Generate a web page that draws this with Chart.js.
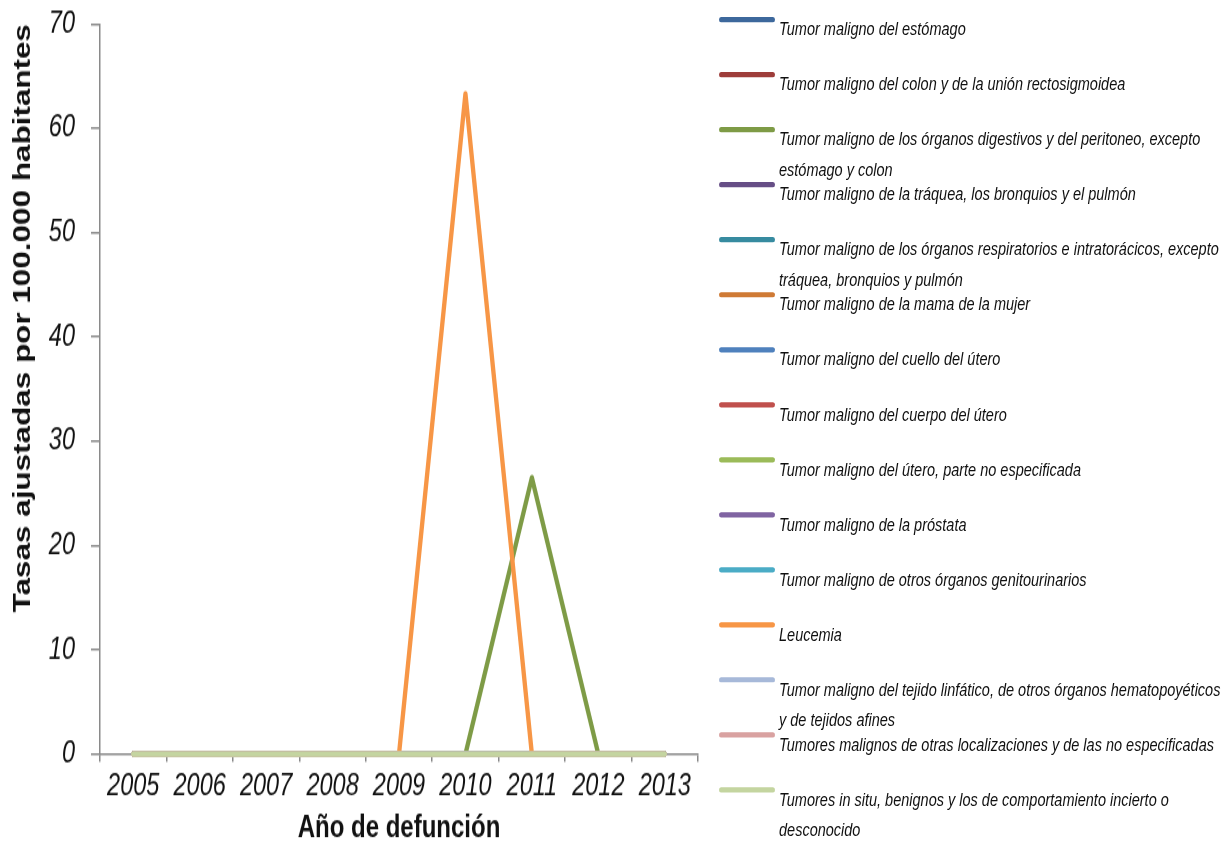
<!DOCTYPE html>
<html lang="es">
<head>
<meta charset="utf-8">
<title>Tasas ajustadas por 100.000 habitantes</title>
<script src="https://cdn.jsdelivr.net/npm/chart.js@4.4.1/dist/chart.umd.min.js"></script>
<style>
  html { overflow: hidden; }
  html, body { margin: 0; padding: 0; background: #fff; height: 841px; }
  /* the whole figure is drawn 642px tall and stretched to 841px */
  #stage { position: relative; width: 1226px; height: 642px; transform: scaleY(1.31); transform-origin: 0 0; }
  #chart { position: absolute; left: 0; top: 0; }
  .key-line { position: absolute; left: 719px; width: 56px; height: 4px; border-radius: 2px; }
  .key-text { position: absolute; left: 779px; font: italic 14.5px/23px "Liberation Sans", Arial, sans-serif; color: #111; white-space: pre; }
</style>
</head>
<body>
<div id="stage">
  <canvas id="chart" width="1226" height="642" style="width:1226px;height:642px"></canvas>
  <div id="legend"></div>
</div>
<script>
const years = ['2005', '2006', '2007', '2008', '2009', '2010', '2011', '2012', '2013'];

const causes = [
  'Tumor maligno del estómago',
  'Tumor maligno del colon y de la unión rectosigmoidea',
  'Tumor maligno de los órganos digestivos y del peritoneo, excepto\nestómago y colon',
  'Tumor maligno de la tráquea, los bronquios y el pulmón',
  'Tumor maligno de los órganos respiratorios e intratorácicos, excepto\ntráquea, bronquios y pulmón',
  'Tumor maligno de la mama de la mujer',
  'Tumor maligno del cuello del útero',
  'Tumor maligno del cuerpo del útero',
  'Tumor maligno del útero, parte no especificada',
  'Tumor maligno de la próstata',
  'Tumor maligno de otros órganos genitourinarios',
  'Leucemia',
  'Tumor maligno del tejido linfático, de otros órganos hematopoyéticos\ny de tejidos afines',
  'Tumores malignos de otras localizaciones y de las no especificadas',
  'Tumores in situ, benignos y los de comportamiento incierto o\ndesconocido'
];

const colors = [
  '#3d689c', '#9e3d3a', '#7e9b46', '#664e86', '#378ba0', '#cf7a35',
  '#4f81bd', '#c0504d', '#9bbb59', '#8064a2', '#4bacc6', '#f79646',
  '#a7b9d9', '#d9a2a1', '#c4d5a0'
];

// rates per year
const sinCasos   = [0, 0, 0, 0, 0, 0, 0, 0, 0];
const digestivos = [0, 0, 0, 0, 0, 0, 26.5, 0, 0];
const leucemia   = [0, 0, 0, 0, 0, 63.3, 0, 0, 0];

const tasas = [
  sinCasos, sinCasos, digestivos, sinCasos, sinCasos, sinCasos,
  sinCasos, sinCasos, sinCasos, sinCasos, sinCasos, leucemia,
  sinCasos, sinCasos, sinCasos
];

const yTicks = { min: 0, max: 70, step: 10 };

const axisGray = '#8a8a8a';
const family = '"Liberation Sans", Arial, sans-serif';

// legend on the right, one entry every 42px
const legend = document.getElementById('legend');
causes.forEach((name, i) => {
  const y = 15.3 + i * 42;
  const line = document.createElement('div');
  line.className = 'key-line';
  line.style.top = (y - 2) + 'px';
  line.style.background = colors[i];
  const txt = document.createElement('div');
  txt.className = 'key-text';
  txt.style.top = (y - 4.3) + 'px';
  txt.textContent = name;
  legend.appendChild(line);
  legend.appendChild(txt);
});

const datasets = causes.map((name, i) => ({
  label: name.replace('\n', ' '),
  data: tasas[i],
  borderColor: colors[i],
  backgroundColor: colors[i],
  borderWidth: 4.3,
  borderCapStyle: 'round',
  borderJoinStyle: 'round',
  pointRadius: 0,
  tension: 0,
  clip: false,
  order: causes.length - i   // later series on top
}));

new Chart(document.getElementById('chart'), {
  type: 'line',
  data: { labels: years, datasets },
  options: {
    responsive: false,
    animation: false,
    layout: { padding: { top: 18.3, right: 528, left: 0, bottom: 0 } },
    plugins: { legend: { display: false }, tooltip: { enabled: false } },
    scales: {
      x: {
        offset: true,
        afterFit: s => { s.height = 66.4; s.paddingLeft = 0; s.paddingRight = 0; },
        grid: { offset: true, drawOnChartArea: false, tickLength: 6, color: axisGray, lineWidth: 1.5 },
        border: { color: axisGray, width: 1.5 },
        ticks: {
          color: '#111', padding: 5, maxRotation: 0, autoSkip: false,
          font: { family, size: 23.5, style: 'italic' }
        },
        title: {
          display: true, text: 'Año de defunción', color: '#111',
          padding: { top: 0, bottom: -2 },
          font: { family, size: 24, weight: 'bold', lineHeight: 1 }
        }
      },
      y: {
        min: yTicks.min, max: yTicks.max,
        afterFit: s => { s.width = 100; s.paddingTop = 0; s.paddingBottom = 0; },
        grid: { drawOnChartArea: false, tickLength: 9, color: axisGray, lineWidth: 1.5 },
        border: { color: axisGray, width: 1.5 },
        ticks: {
          stepSize: yTicks.step, color: '#111', padding: 16,
          font: { family, size: 23.5, style: 'italic' }
        },
        title: {
          display: true, text: 'Tasas ajustadas por 100.000 habitantes', color: '#111',
          align: 'end', padding: { top: 9, bottom: 0 },
          font: { family, size: 24, weight: 'bold' }
        }
      }
    }
  }
});
</script>
</body>
</html>
